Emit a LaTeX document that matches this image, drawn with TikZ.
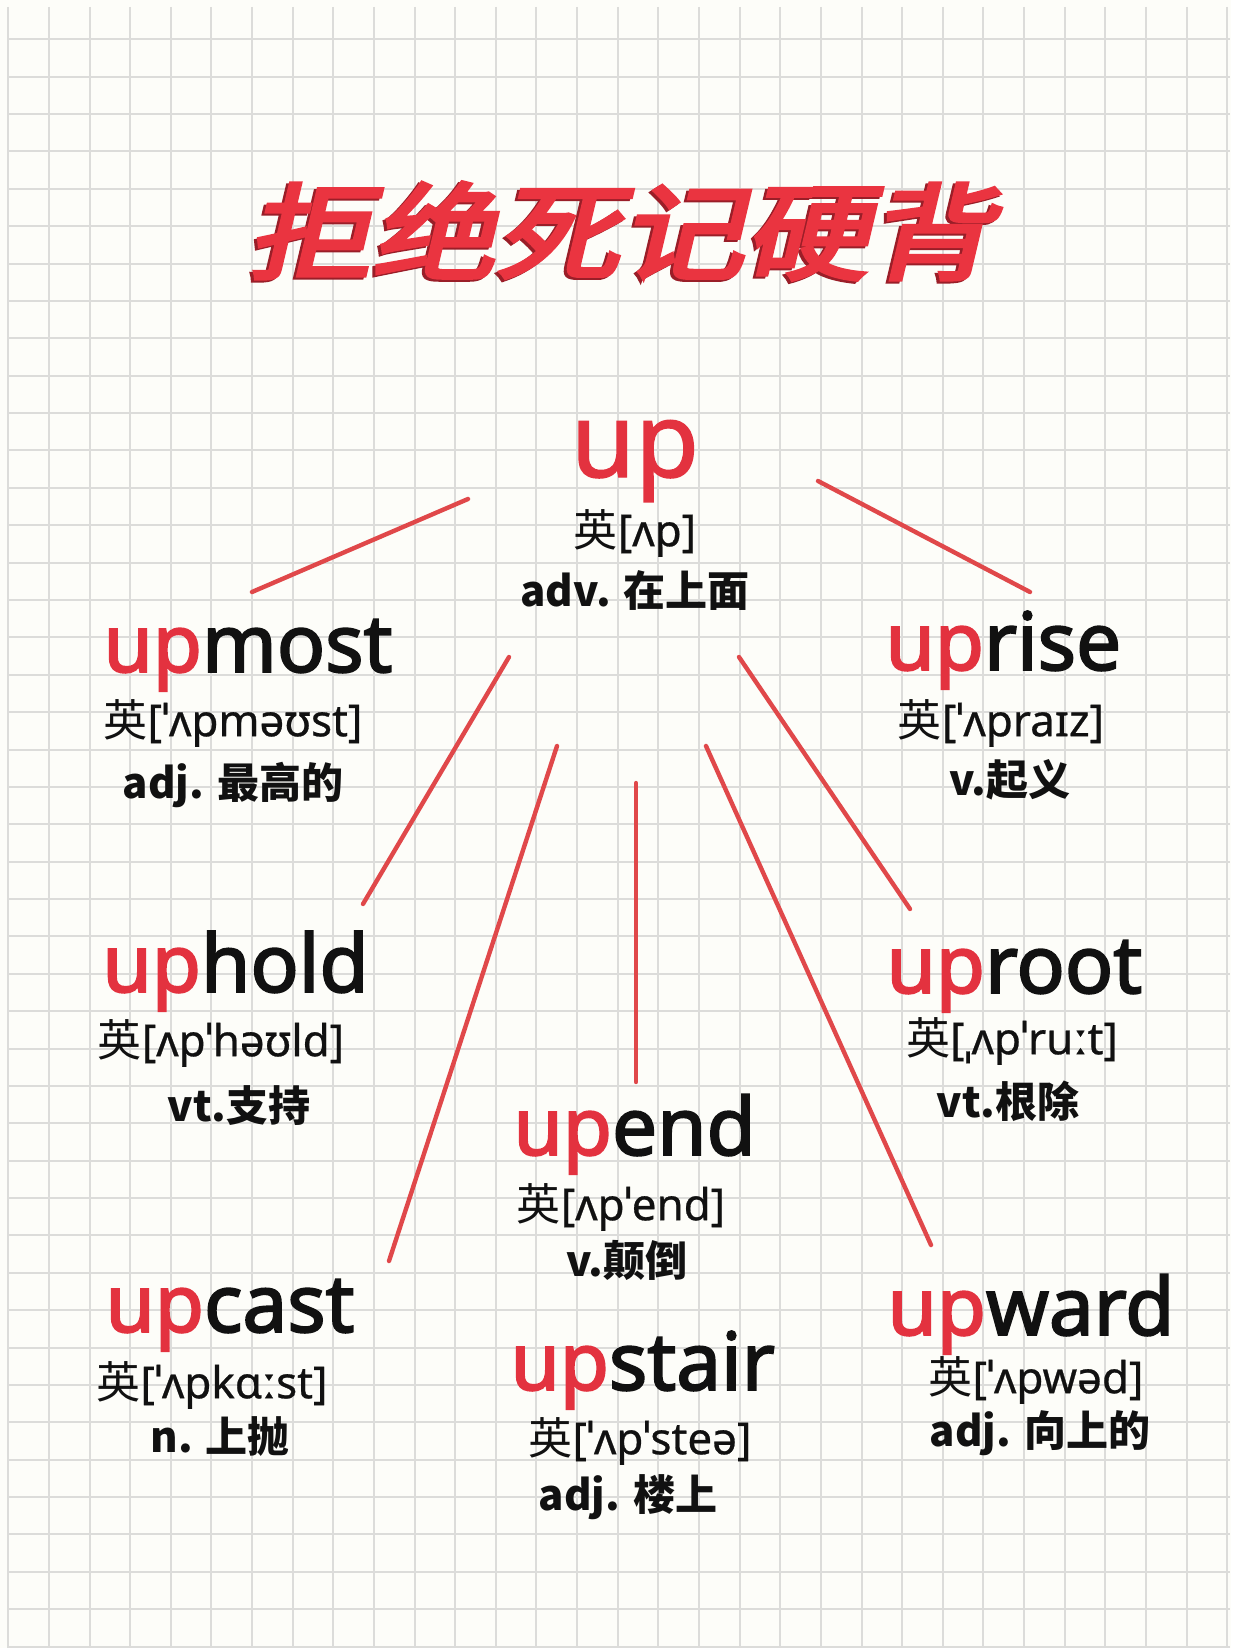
\documentclass[tikz,border=0pt]{standalone}
\usepackage{fontspec}
\setmainfont{Noto Sans}
\newfontfamily\wordfont{Noto Sans}[FakeBold=2.4]
\newfontfamily\rootfont{Noto Sans}[FakeBold=1.4]
\newfontfamily\ipafont{Noto Sans}[FakeBold=0.6]
\newfontfamily\cjk{Noto Sans CJK SC}
\newfontfamily\titlecjk{Noto Sans CJK SC}[FakeSlant=0.2,FakeBold=3.5]
\definecolor{paper}{HTML}{FDFDF9}
\definecolor{gridgray}{HTML}{DCDCDA}
\definecolor{ink}{HTML}{111111}
\definecolor{upred}{HTML}{E3323F}
\definecolor{linkred}{HTML}{E0484A}
\definecolor{titlered}{HTML}{EA3440}
\definecolor{titleshade}{HTML}{9A1E28}
\newcommand{\redup}{\textcolor{upred}{up}}
\newcommand{\ying}{{\cjk 英}}
\tikzset{
  gridline/.style={draw=gridgray, line width=1pt},
  link/.style={draw=linkred, line width=2.2pt, line cap=round},
  word/.style={anchor=base west, inner sep=0pt, text=ink,
    font=\wordfont\fontsize{40}{40}\selectfont},
  ipa/.style={inner sep=0pt, text=ink, font=\ipafont\fontsize{22}{22}\selectfont},
  gloss/.style={inner sep=0pt, text=ink, font=\cjk\fontsize{21}{21}\selectfont\bfseries}
}

\begin{document}
\begin{tikzpicture}[x=0.5pt, y=-0.5pt]
  \useasboundingbox (0,0) rectangle (1242,1648);
  \fill[white] (0,0) rectangle (1242,1648);
  \fill[paper] (0,0) rectangle (1231,1648);

  % squared paper
  \foreach \i in {0,...,30}
    \draw[gridline] ({8.3+40.63*\i},7) -- ({8.3+40.63*\i},1648);
  \foreach \j in {1,...,44}
    \draw[gridline] (7,{1.9+37.38*\j}) -- (1230,{1.9+37.38*\j});

  % title
  \node[inner sep=0pt, text=titleshade, font=\titlecjk\fontsize{57}{57}\selectfont]
    at (617,233) {\scalebox{1.09}[0.92]{拒绝死记硬背}};
  \node[inner sep=0pt, text=titlered, font=\titlecjk\fontsize{57}{57}\selectfont]
    (title) at (620,231) {\scalebox{1.09}[0.92]{拒绝死记硬背}};

  % root word
  \node[anchor=base, inner sep=0pt, text=upred, font=\rootfont\fontsize{52}{52}\selectfont]
    (up) at (635,477) {up};
  \node[ipa] (up-ipa) at (635,533) {\ying[ʌp]};
  \node[gloss] (up-gloss) at (635,591) {adv. 在上面};

  % derived words
  \node[word] (upmost) at (103,672) {\redup most};
  \node[ipa] (upmost-ipa) at (233,723) {\ying[ˈʌpməʊst]};
  \node[gloss] (upmost-gloss) at (233,785) {adj. 最高的};

  \node[word] (uprise) at (885,670) {\redup rise};
  \node[ipa] (uprise-ipa) at (1001,723) {\ying[ˈʌpraɪz]};
  \node[gloss] (uprise-gloss) at (1010,780) {v.起义};

  \node[word] (uphold) at (102,992) {\redup hold};
  \node[ipa] (uphold-ipa) at (221,1043) {\ying[ʌpˈhəʊld]};
  \node[gloss] (uphold-gloss) at (239,1106) {vt.支持};

  \node[word] (uproot) at (886,993) {\redup root};
  \node[ipa] (uproot-ipa) at (1012,1041) {\ying[ˌʌpˈruːt]};
  \node[gloss] (uproot-gloss) at (1008,1101) {vt.根除};

  \node[word] (upend) at (513,1155) {\redup end};
  \node[ipa] (upend-ipa) at (621,1207) {\ying[ʌpˈend]};
  \node[gloss] (upend-gloss) at (627,1260) {v.颠倒};

  \node[word] (upcast) at (105,1332) {\redup cast};
  \node[ipa] (upcast-ipa) at (212,1385) {\ying[ˈʌpkɑːst]};
  \node[gloss] (upcast-gloss) at (220,1437) {n. 上抛};

  \node[word] (upward) at (887,1335) {\redup ward};
  \node[ipa] (upward-ipa) at (1036,1380) {\ying[ˈʌpwəd]};
  \node[gloss] (upward-gloss) at (1040,1433) {adj. 向上的};

  \node[word] (upstair) at (510,1390) {\redup stair};
  \node[ipa] (upstair-ipa) at (640,1441) {\ying[ˈʌpˈsteə]};
  \node[gloss] (upstair-gloss) at (628,1497) {adj. 楼上};

  % link ends
  \coordinate (a1) at (468,499);  \coordinate (b1) at (252,592);
  \coordinate (a2) at (818,481);  \coordinate (b2) at (1030,592);
  \coordinate (a3) at (509,657);  \coordinate (b3) at (363,904);
  \coordinate (a4) at (557,746);  \coordinate (b4) at (389,1261);
  \coordinate (a5) at (636,783);  \coordinate (b5) at (636,1082);
  \coordinate (a6) at (706,746);  \coordinate (b6) at (931,1245);
  \coordinate (a7) at (739,657);  \coordinate (b7) at (910,909);

  \foreach \k in {1,...,7}
    \draw[link] (a\k) -- (b\k);
\end{tikzpicture}
\end{document}
